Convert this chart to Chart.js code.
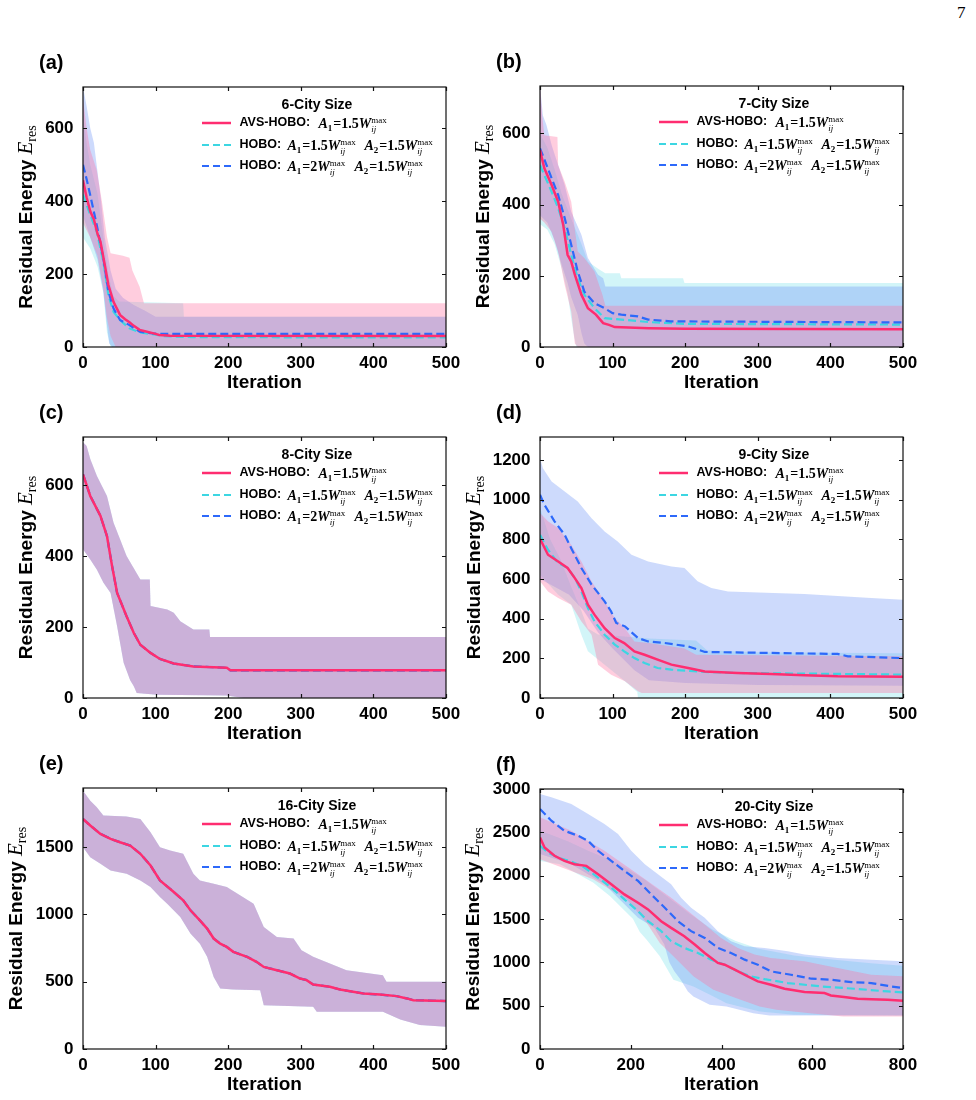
<!DOCTYPE html>
<html>
<head>
<meta charset="utf-8">
<script src="https://cdn.jsdelivr.net/npm/chart.js@4.4.0/dist/chart.umd.min.js"></script>
<style>
body { margin: 0; background: #fff; width: 976px; height: 1100px; position: relative; overflow: hidden; }
canvas { position: absolute; }
.page { position: absolute; left: 957px; top: 3px; font-family: "Liberation Serif", serif; font-size: 17px; }
</style>
</head>
<body>
<div class="page">7</div>
<canvas id="pa"></canvas>
<canvas id="pb"></canvas>
<canvas id="pc"></canvas>
<canvas id="pd"></canvas>
<canvas id="pe"></canvas>
<canvas id="pf"></canvas>
<script>
// [iteration, residual energy]

// (a) 6-city
const aAvsMean = [[0,457],[5,410],[10,372],[15,350],[20,310],[24,289],[30,225],[35,170],[42,124],[51,88],[58,76],[64,68],[70,58],[78,47],[88,42],[96,38],[105,33],[120,31],[500,30]];
const aHoboMean = [[0,418],[5,390],[10,362],[19,316],[28,234],[35,142],[42,97],[51,74],[64,51],[78,40],[96,35],[110,30],[150,27],[500,26]];
const aHobo2Mean = [[0,500],[5,460],[10,416],[19,334],[28,243],[35,152],[42,106],[51,74],[64,60],[78,42],[96,37],[110,36],[500,36]];
const aAvsUpper = [[0,680],[5,600],[10,540],[19,485],[26,400],[33,302],[38,257],[55,250],[64,245],[68,210],[78,165],[84,120],[500,120]];
const aAvsLower = [[0,340],[10,300],[20,250],[28,160],[33,80],[38,30],[45,0],[500,0]];
const aHoboUpper = [[0,640],[5,560],[10,500],[20,420],[28,300],[35,200],[42,140],[50,125],[138,120],[139,83],[500,83]];
const aHoboLower = [[0,300],[10,270],[20,220],[28,150],[33,40],[38,0],[500,0]];
const aHobo2Upper = [[0,713],[5,660],[10,600],[15,560],[20,480],[25,400],[30,300],[38,210],[45,160],[55,135],[70,115],[85,100],[100,83],[500,83]];
const aHobo2Lower = [[0,360],[10,300],[20,240],[28,150],[33,60],[36,10],[40,0],[500,0]];

// (b) 7-city
const bAvsMean = [[0,553],[6,502],[16,455],[25,408],[32,343],[38,259],[43,240],[48,203],[57,147],[66,109],[77,91],[87,67],[95,62],[103,56],[150,53],[200,51],[500,50]];
const bHoboMean = [[0,511],[16,436],[25,390],[34,334],[43,259],[52,193],[61,147],[75,109],[89,81],[112,77],[150,70],[200,65],[500,63]];
const bHobo2Mean = [[0,558],[16,474],[25,427],[34,362],[43,287],[52,212],[61,156],[75,123],[89,109],[100,95],[112,91],[135,86],[149,77],[180,72],[500,69]];
const bAvsUpper = [[0,733],[3,650],[6,595],[24,590],[25,511],[34,464],[43,408],[52,268],[61,250],[75,212],[86,147],[90,116],[500,116]];
const bAvsLower = [[0,360],[6,350],[16,324],[25,268],[34,175],[43,100],[46,44],[48,10],[52,0],[500,0]];
const bHoboUpper = [[0,600],[10,560],[20,500],[30,430],[43,360],[57,290],[66,240],[80,220],[90,207],[110,207],[112,193],[197,193],[199,180],[500,180]];
const bHoboLower = [[0,345],[10,330],[20,290],[30,220],[38,150],[43,80],[47,30],[50,0],[500,0]];
const bHobo2Upper = [[0,733],[4,650],[9,623],[16,567],[25,511],[34,455],[43,380],[57,315],[66,250],[80,203],[87,193],[90,170],[500,170]];
const bHobo2Lower = [[0,370],[10,350],[20,300],[30,230],[38,180],[43,140],[52,90],[57,40],[61,10],[66,0],[500,0]];

// (c) 8-city (all three runs overlap)
const cMean = [[0,630],[10,569],[24,513],[33,456],[40,372],[47,296],[60,230],[70,183],[79,150],[93,127],[106,110],[125,97],[152,89],[198,85],[203,78],[500,78]];
const cUpper = [[0,720],[5,710],[10,673],[19,626],[33,569],[42,494],[51,447],[60,400],[79,334],[92,334],[93,259],[116,249],[125,240],[134,216],[152,193],[174,193],[175,172],[500,172]];
const cLower = [[0,419],[10,390],[19,362],[28,325],[38,296],[47,202],[56,99],[65,50],[70,33],[74,14],[102,9],[198,7],[221,0],[500,0]];

// (d) 9-city
const dAvsMean = [[0,802],[11,722],[25,688],[38,655],[48,604],[57,554],[66,470],[75,420],[89,352],[103,302],[116,277],[130,235],[144,218],[162,193],[181,168],[204,151],[227,134],[272,126],[318,121],[364,114],[410,109],[500,107]];
const dHoboMean = [[0,822],[11,747],[25,680],[38,655],[48,604],[57,537],[66,453],[75,386],[89,319],[103,269],[116,235],[130,201],[144,176],[162,151],[181,143],[227,131],[272,126],[364,123],[500,118]];
const dHobo2Mean = [[0,1024],[6,974],[20,890],[34,822],[43,755],[57,655],[71,571],[89,487],[98,436],[105,378],[117,361],[135,302],[149,285],[172,277],[204,260],[227,232],[318,227],[410,222],[424,210],[500,201]];
const dAvsUpper = [[0,932],[11,890],[25,856],[43,772],[57,688],[71,588],[89,487],[103,403],[117,352],[130,285],[150,277],[199,250],[215,218],[500,210]];
const dAvsLower = [[0,588],[11,537],[25,504],[43,470],[57,386],[71,319],[80,168],[98,117],[117,84],[135,34],[140,25],[500,25]];
const dHoboUpper = [[0,960],[14,800],[28,700],[43,560],[57,440],[66,350],[80,320],[100,315],[150,300],[215,290],[230,240],[300,230],[500,225]];
const dHoboLower = [[0,621],[25,520],[43,470],[57,319],[66,235],[89,168],[117,84],[134,30],[135,0],[500,0]];
const dHobo2Upper = [[0,1209],[4,1158],[16,1091],[34,1041],[52,990],[71,906],[89,839],[107,789],[126,722],[149,688],[181,663],[199,655],[217,588],[236,554],[259,537],[364,524],[456,504],[500,495]];
const dHobo2Lower = [[0,600],[20,560],[40,520],[60,440],[80,330],[100,250],[130,140],[150,90],[200,75],[300,65],[500,62]];

// (e) 16-city (all three runs overlap)
const eMean = [[0,1710],[10,1661],[24,1599],[38,1562],[51,1537],[65,1512],[79,1451],[93,1364],[106,1253],[125,1167],[138,1105],[148,1031],[161,956],[171,895],[180,821],[189,783],[198,759],[207,722],[226,685],[239,648],[249,610],[267,586],[285,561],[299,524],[308,512],[317,479],[340,462],[354,442],[372,425],[386,413],[409,405],[432,393],[446,376],[455,363],[500,356]];
const eUpper = [[0,1920],[10,1846],[19,1797],[28,1735],[60,1728],[79,1710],[93,1611],[106,1500],[120,1476],[138,1451],[152,1303],[161,1253],[180,1228],[198,1204],[235,1080],[249,907],[267,833],[290,821],[301,734],[317,685],[363,586],[413,549],[418,499],[500,499]];
const eLower = [[0,1500],[10,1426],[24,1377],[38,1327],[60,1303],[79,1253],[93,1204],[106,1130],[116,1080],[134,981],[148,858],[161,783],[171,685],[180,536],[189,450],[207,442],[244,437],[249,326],[317,314],[322,277],[413,277],[437,220],[464,178],[500,166]];

// (f) 20-city
const fAvsMean = [[0,2441],[10,2325],[32,2229],[54,2171],[76,2132],[102,2113],[128,2016],[157,1900],[186,1784],[216,1688],[238,1611],[267,1475],[289,1398],[318,1302],[341,1205],[363,1108],[392,993],[407,973],[429,915],[458,838],[480,780],[509,742],[539,695],[553,684],[583,657],[627,645],[641,618],[670,599],[700,579],[730,575],[766,568],[800,556]];
const fHoboMean = [[0,2345],[18,2267],[40,2209],[69,2163],[98,2094],[128,1978],[157,1862],[186,1727],[216,1591],[238,1475],[267,1360],[289,1244],[318,1166],[348,1108],[377,1031],[407,973],[436,896],[465,838],[495,807],[546,761],[620,722],[693,695],[766,664],[800,653]];
const fHobo2Mean = [[0,2769],[25,2634],[54,2518],[84,2460],[106,2402],[128,2287],[157,2171],[186,2055],[216,1939],[245,1784],[275,1630],[304,1475],[333,1360],[363,1282],[392,1166],[421,1108],[451,1031],[480,973],[509,896],[553,857],[598,811],[641,800],[686,772],[730,761],[774,722],[800,703]];
const fAvsUpper = [[0,2673],[69,2518],[142,2287],[216,2016],[289,1746],[326,1591],[363,1437],[399,1282],[436,1166],[473,1089],[509,1051],[583,1012],[656,935],[730,857],[800,838]];
const fAvsLower = [[0,2190],[117,1958],[191,1727],[235,1456],[264,1224],[294,1070],[338,838],[382,684],[433,587],[484,490],[521,452],[595,413],[668,375],[800,375]];
const fHoboUpper = [[0,2520],[60,2400],[110,2280],[170,2150],[230,1960],[280,1760],[330,1560],[380,1380],[430,1250],[480,1160],[560,1080],[650,1030],[730,990],[800,960]];
const fHoboLower = [[0,2170],[44,2132],[117,1920],[154,1765],[205,1500],[220,1350],[235,1260],[264,1070],[294,800],[338,722],[382,606],[411,529],[484,433],[558,394],[800,386]];
const fHobo2Upper = [[0,2943],[25,2904],[69,2827],[106,2711],[142,2596],[172,2480],[201,2287],[231,2132],[260,2016],[289,1900],[311,1746],[333,1630],[363,1514],[392,1360],[421,1244],[451,1186],[495,1166],[546,1128],[583,1089],[656,1051],[730,1031],[800,1012]];
const fHobo2Lower = [[0,2250],[69,2132],[142,1900],[216,1514],[252,1398],[274,1205],[285,1000],[296,896],[310,800],[326,664],[338,606],[374,510],[411,490],[470,413],[506,386],[800,386]];

// tick values
const xTicks500 = [0, 100, 200, 300, 400, 500];
const xTicks800 = [0, 200, 400, 600, 800];
const yTicksSmall = [0, 200, 400, 600];
const yTicksD = [0, 200, 400, 600, 800, 1000, 1200];
const yTicksE = [0, 500, 1000, 1500];
const yTicksF = [0, 500, 1000, 1500, 2000, 2500, 3000];

const PINK = 'rgb(255,45,112)';
const CYAN = 'rgb(60,214,226)';
const BLUE = 'rgb(45,105,250)';
const PINK_BAND = 'rgba(255,112,161,0.35)';
const CYAN_BAND = 'rgba(126,226,235,0.35)';
const BLUE_BAND = 'rgba(112,149,246,0.35)';

const SANS = '"Liberation Sans", Arial, sans-serif';
const SERIF = '"Liberation Serif", "Times New Roman", serif';

const panels = [
    { id: 'pa', tag: '(a)', city: '6-City Size', L: 83, T: 87, R: 446, B: 347, xMax: 500, yMax: 713, xTicks: xTicks500, yTicks: yTicksSmall, yTitle: 58,
      means: [aAvsMean, aHoboMean, aHobo2Mean], bands: [[aAvsUpper, aAvsLower], [aHoboUpper, aHoboLower], [aHobo2Upper, aHobo2Lower]] },
    { id: 'pb', tag: '(b)', city: '7-City Size', L: 540, T: 86, R: 903, B: 347, xMax: 500, yMax: 733, xTicks: xTicks500, yTicks: yTicksSmall, yTitle: 58,
      means: [bAvsMean, bHoboMean, bHobo2Mean], bands: [[bAvsUpper, bAvsLower], [bHoboUpper, bHoboLower], [bHobo2Upper, bHobo2Lower]] },
    { id: 'pc', tag: '(c)', city: '8-City Size', L: 83, T: 437, R: 446, B: 698, xMax: 500, yMax: 735, xTicks: xTicks500, yTicks: yTicksSmall, yTitle: 58,
      means: [cMean, cMean, cMean], bands: [[cUpper, cLower], [cUpper, cLower], [cUpper, cLower]] },
    { id: 'pd', tag: '(d)', city: '9-City Size', L: 540, T: 437, R: 903, B: 698, xMax: 500, yMax: 1315, xTicks: xTicks500, yTicks: yTicksD, yTitle: 67,
      means: [dAvsMean, dHoboMean, dHobo2Mean], bands: [[dAvsUpper, dAvsLower], [dHoboUpper, dHoboLower], [dHobo2Upper, dHobo2Lower]] },
    { id: 'pe', tag: '(e)', city: '16-City Size', L: 83, T: 788, R: 446, B: 1049, xMax: 500, yMax: 1940, xTicks: xTicks500, yTicks: yTicksE, yTitle: 68,
      means: [eMean, eMean, eMean], bands: [[eUpper, eLower], [eUpper, eLower], [eUpper, eLower]] },
    { id: 'pf', tag: '(f)', city: '20-City Size', L: 540, T: 789, R: 903, B: 1049, xMax: 800, yMax: 3000, xTicks: xTicks800, yTicks: yTicksF, yTitle: 68,
      means: [fAvsMean, fHoboMean, fHobo2Mean], bands: [[fAvsUpper, fAvsLower], [fHoboUpper, fHoboLower], [fHobo2Upper, fHobo2Lower]] }
];

const PAD = { left: 90, top: 60, right: 40, bottom: 50 };

// A_k = c W_ij^max, drawn piece by piece
function drawMath(ctx, x, y, sub, coef) {
    ctx.textAlign = 'left';
    ctx.textBaseline = 'alphabetic';
    ctx.font = 'italic bold 14px ' + SERIF;
    ctx.fillText('A', x, y);
    x += ctx.measureText('A').width;
    ctx.font = 'bold 9px ' + SERIF;
    ctx.fillText(sub, x, y + 3);
    x += ctx.measureText(sub).width + 1;
    ctx.font = 'bold 14px ' + SERIF;
    ctx.fillText('=' + coef, x, y);
    x += ctx.measureText('=' + coef).width;
    ctx.font = 'italic bold 14px ' + SERIF;
    ctx.fillText('W', x, y);
    x += ctx.measureText('W').width;
    ctx.font = '9px ' + SERIF;
    ctx.fillText('max', x, y - 5);
    const wMax = ctx.measureText('max').width;
    ctx.font = 'italic 9px ' + SERIF;
    ctx.fillText('ij', x, y + 4);
    return x + wMax;
}

const decorPlugin = {
    id: 'decor',
    afterDraw(chart, args, opts) {
        const p = opts.panel;
        const ctx = chart.ctx;
        const a = chart.chartArea;
        const xs = chart.scales.x;
        const ys = chart.scales.y;
        ctx.save();
        ctx.fillStyle = '#000';
        ctx.strokeStyle = '#111';

        // frame and inward ticks
        ctx.lineWidth = 1.2;
        ctx.strokeRect(a.left, a.top, a.right - a.left, a.bottom - a.top);
        ctx.beginPath();
        xs.ticks.forEach(t => {
            const px = Math.round(xs.getPixelForValue(t.value)) + 0.5;
            ctx.moveTo(px, a.bottom); ctx.lineTo(px, a.bottom - 4);
            ctx.moveTo(px, a.top); ctx.lineTo(px, a.top + 4);
        });
        ys.ticks.forEach(t => {
            const py = Math.round(ys.getPixelForValue(t.value)) + 0.5;
            ctx.moveTo(a.left, py); ctx.lineTo(a.left + 4, py);
            ctx.moveTo(a.right, py); ctx.lineTo(a.right - 4, py);
        });
        ctx.stroke();

        // tick labels
        ctx.font = 'bold 17px ' + SANS;
        ctx.textBaseline = 'middle';
        ctx.textAlign = 'center';
        xs.ticks.forEach(t => ctx.fillText(String(t.value), xs.getPixelForValue(t.value), a.bottom + 16));
        ctx.textAlign = 'right';
        ys.ticks.forEach(t => ctx.fillText(String(t.value), a.left - 9.5, ys.getPixelForValue(t.value)));

        // axis titles
        ctx.font = 'bold 19px ' + SANS;
        ctx.textAlign = 'center';
        ctx.fillText('Iteration', (a.left + a.right) / 2, a.bottom + 36);

        ctx.save();
        ctx.translate(a.left - p.yTitle, (a.top + a.bottom) / 2);
        ctx.rotate(-Math.PI / 2);
        ctx.textAlign = 'left';
        ctx.textBaseline = 'alphabetic';
        const main = 'Residual Energy ';
        ctx.font = 'bold 19px ' + SANS;
        const w1 = ctx.measureText(main).width;
        ctx.font = 'italic 21px ' + SERIF;
        const w2 = ctx.measureText('E').width;
        ctx.font = '14px ' + SERIF;
        const w3 = ctx.measureText('res').width;
        const x0 = -(w1 + w2 + w3) / 2;
        ctx.font = 'bold 19px ' + SANS;
        ctx.fillText(main, x0, 7);
        ctx.font = 'italic 21px ' + SERIF;
        ctx.fillText('E', x0 + w1, 7);
        ctx.font = '14px ' + SERIF;
        ctx.fillText('res', x0 + w1 + w2, 11);
        ctx.restore();

        // panel tag
        ctx.font = 'bold 20px ' + SANS;
        ctx.textAlign = 'left';
        ctx.textBaseline = 'middle';
        ctx.fillText(p.tag, a.left - 44, a.top - 24);

        // legend
        const lx = a.left;
        ctx.font = 'bold 14px ' + SANS;
        ctx.textAlign = 'center';
        ctx.fillText(p.city, lx + 234, a.top + 18);
        const rows = [
            { y: a.top + 36, color: PINK, dash: [], label: 'AVS-HOBO:' },
            { y: a.top + 58, color: CYAN, dash: [7, 4], label: 'HOBO:' },
            { y: a.top + 79, color: BLUE, dash: [7, 4], label: 'HOBO:' }
        ];
        rows.forEach((r, i) => {
            ctx.beginPath();
            ctx.setLineDash(r.dash);
            ctx.strokeStyle = r.color;
            ctx.lineWidth = i === 0 ? 2.5 : 2;
            ctx.moveTo(lx + 119, r.y); ctx.lineTo(lx + 148, r.y);
            ctx.stroke();
            ctx.setLineDash([]);
            ctx.font = 'bold 12.5px ' + SANS;
            ctx.textAlign = 'left';
            ctx.textBaseline = 'middle';
            ctx.fillStyle = '#000';
            ctx.fillText(r.label, lx + 156.5, r.y);
        });
        drawMath(ctx, lx + 235.5, a.top + 41, '1', '1.5');
        drawMath(ctx, lx + 204.5, a.top + 63, '1', '1.5');
        drawMath(ctx, lx + 281.5, a.top + 63, '2', '1.5');
        drawMath(ctx, lx + 204.5, a.top + 84, '1', '2');
        drawMath(ctx, lx + 271.5, a.top + 84, '2', '1.5');

        ctx.restore();
    }
};

function lineSet(data, color, dash, width) {
    return { data: data, borderColor: color, borderWidth: width, borderDash: dash, pointRadius: 0, fill: false, tension: 0 };
}

function bandSet(upper, lower, color) {
    return [
        { data: upper, borderColor: 'transparent', borderWidth: 0, backgroundColor: color, fill: '+1', pointRadius: 0, tension: 0 },
        { data: lower, borderColor: 'transparent', borderWidth: 0, fill: false, pointRadius: 0, tension: 0 }
    ];
}

panels.forEach(p => {
    const canvas = document.getElementById(p.id);
    const w = (p.R - p.L) + PAD.left + PAD.right;
    const h = (p.B - p.T) + PAD.top + PAD.bottom;
    canvas.width = w;
    canvas.height = h;
    canvas.style.width = w + 'px';
    canvas.style.height = h + 'px';
    canvas.style.left = (p.L - PAD.left) + 'px';
    canvas.style.top = (p.T - PAD.top) + 'px';

    // index 0 is drawn on top, so lines first, bands after
    const datasets = [
        lineSet(p.means[0], PINK, [], 2.5),
        lineSet(p.means[2], BLUE, [8, 4], 2.2),
        lineSet(p.means[1], CYAN, [8, 4], 2.2),
        ...bandSet(p.bands[0][0], p.bands[0][1], PINK_BAND),
        ...bandSet(p.bands[2][0], p.bands[2][1], BLUE_BAND),
        ...bandSet(p.bands[1][0], p.bands[1][1], CYAN_BAND)
    ];

    // eslint-disable-next-line
    new Chart(canvas, {
        type: 'line',
        data: { datasets: datasets },
        options: {
            responsive: false,
            animation: false,
            layout: { padding: PAD },
            plugins: { legend: { display: false }, tooltip: { enabled: false }, decor: { panel: p } },
            scales: {
                x: {
                    type: 'linear', min: 0, max: p.xMax,
                    ticks: { display: false },
                    grid: { display: false, drawTicks: false }, border: { display: false },
                    afterBuildTicks(s) { s.ticks = p.xTicks.map(v => ({ value: v })); },
                    afterFit(s) { s.height = 0; }
                },
                y: {
                    type: 'linear', min: 0, max: p.yMax,
                    ticks: { display: false },
                    grid: { display: false, drawTicks: false }, border: { display: false },
                    afterBuildTicks(s) { s.ticks = p.yTicks.map(v => ({ value: v })); },
                    afterFit(s) { s.width = 0; }
                }
            }
        },
        plugins: [decorPlugin]
    });
});
</script>
</body>
</html>
